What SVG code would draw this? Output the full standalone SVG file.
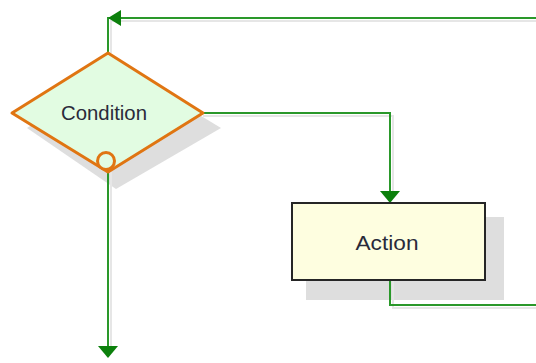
<svg xmlns="http://www.w3.org/2000/svg" width="536" height="363" viewBox="0 0 536 363">
<defs>
<style>
.shadow{fill:#dedede;stroke:none}
.cshadow{fill:none;stroke:#e6e6e6;stroke-width:2}
.conn{fill:none;stroke:#2a982a;stroke-width:2}
.arrow{fill:#0c800c;stroke:none}
.label{font-family:"Liberation Sans",Arial,sans-serif;font-size:21px;fill:#2a2a3a;text-anchor:middle}
</style>
</defs>
<rect width="536" height="363" fill="#ffffff"/>
<g id="shadows">
<polygon class="shadow" points="122,68 221,128 116,189 27,128"/>
<rect class="shadow" x="306" y="217" width="198" height="83"/>
</g>
<g id="connectors">
<polyline class="cshadow" points="536,21 111,21 111,53"/>
<polyline class="cshadow" points="203,116 393,116 393,192"/>
<polyline class="cshadow" points="393,281 393,308 536,308"/>
<polyline class="cshadow" points="111,172 111,346"/>
<polyline class="conn" points="536,18 108,18 108,53"/>
<polygon class="arrow" points="108,18 121,10 121,26"/>
<polyline class="conn" points="203,113 390,113 390,192"/>
<polygon class="arrow" points="390,203 380,191 400,191"/>
<polyline class="conn" points="390,281 390,305 536,305"/>
<polyline class="conn" points="108,170 108,347"/>
<polygon class="arrow" points="108,358 98,346 118,346"/>
</g>
<g id="condition">
<polygon points="108,53 203,113 108,172 12,113" fill="#e2fce2" stroke="#e07512" stroke-width="3" stroke-linejoin="round"/>
<circle cx="106" cy="161" r="8.5" fill="#e2fce2" stroke="#e07512" stroke-width="3"/>
<text class="label" x="104" y="120" textLength="86" lengthAdjust="spacingAndGlyphs">Condition</text>
</g>
<g id="action">
<rect x="292" y="203" width="193" height="77" fill="#fefee0" stroke="#262626" stroke-width="2"/>
<text class="label" x="387" y="250" textLength="63" lengthAdjust="spacingAndGlyphs">Action</text>
</g>
</svg>
